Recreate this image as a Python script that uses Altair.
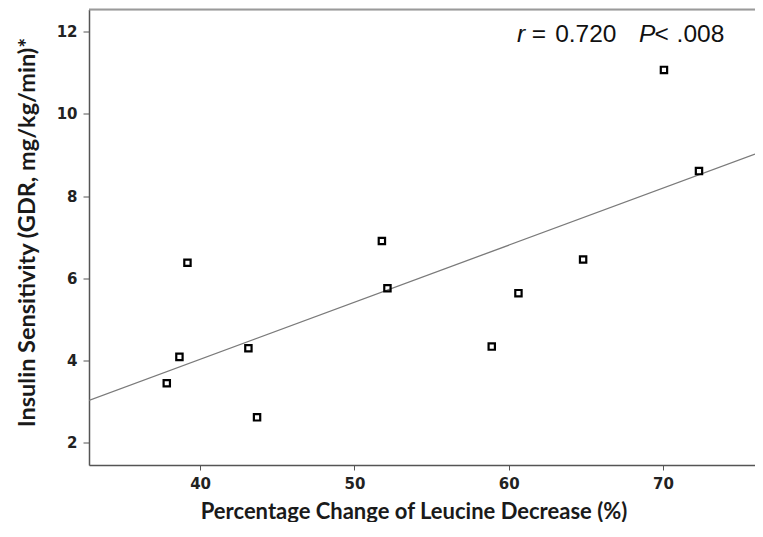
import altair as alt
import pandas as pd

# Data
leucine_change = [37.84, 38.66, 39.18, 43.13, 43.69, 51.78, 52.14, 58.90, 60.63, 64.82, 70.06, 72.33]
insulin_sens = [3.45, 4.09, 6.38, 4.30, 2.62, 6.91, 5.76, 4.34, 5.64, 6.46, 11.07, 8.61]

x_ticks = [40, 50, 60, 70]
y_ticks = [2, 4, 6, 8, 10, 12]
x_domain = [32.8, 75.96]
y_domain = [1.46, 12.54]

# annotation pieces: text, x (data), y (data), italic?
ann_text = ["r", "=", "0.720", "P", "<", ".008"]
ann_x = [60.54, 61.49, 63.01, 68.45, 69.45, 70.88]
ann_y = [11.742] * 6
ann_style = ["italic", "normal", "normal", "italic", "normal", "normal"]

df = pd.DataFrame({"x": leucine_change, "y": insulin_sens})
ann = pd.DataFrame({"t": ann_text, "x": ann_x, "y": ann_y, "s": ann_style})

W, H = 666, 455.5

xs = alt.Scale(domain=x_domain, nice=False, zero=False)
ys = alt.Scale(domain=y_domain, nice=False, zero=False)

xaxis = alt.Axis(
    values=x_ticks, title="Percentage Change of Leucine Decrease (%)",
    grid=False, domainColor="#555555", domainWidth=1.5, tickColor="#555555",
    tickSize=5, labelPadding=6, labelFont="DejaVu Sans", labelFontSize=15,
    labelFontWeight="bold", labelColor="#222222",
    titleFont="Lato", titleFontSize=22, titleFontWeight="bold", titleColor="#1a1a1a",
    titleX=324.5, titleY=53, titleAnchor="start", titleAlign="center", titleBaseline="alphabetic",
)
yaxis = alt.Axis(
    values=y_ticks, title="Insulin Sensitivity (GDR, mg/kg/min)*",
    grid=False, domainColor="#555555", domainWidth=1.5, tickColor="#555555",
    tickSize=6, labelPadding=6, labelFont="DejaVu Sans", labelFontSize=15,
    labelFontWeight="bold", labelColor="#222222",
    titleFont="Lato", titleFontSize=23.5, titleFontWeight="bold", titleColor="#1a1a1a",
    titleX=-55, titleY=222.5, titleAngle=270, titleAlign="center", titleBaseline="alphabetic",
)

base = alt.Chart(df)

points = base.mark_point(shape="square", filled=False, size=40, strokeWidth=2.2, color="black", opacity=1).encode(
    x=alt.X("x:Q", scale=xs, axis=xaxis),
    y=alt.Y("y:Q", scale=ys, axis=yaxis),
)

fit = base.transform_regression("x", "y", extent=x_domain).mark_line(
    color="#7a7a7a", strokeWidth=1.3, clip=True
).encode(x=alt.X("x:Q", scale=xs), y=alt.Y("y:Q", scale=ys))

top_border = alt.Chart(pd.DataFrame({"a": [0]})).mark_rule(color="#9a9a9a", strokeWidth=2).encode(
    x=alt.value(0), x2=alt.value(W), y=alt.value(0)
)

ann_normal = alt.Chart(ann).transform_filter(alt.datum.s == "normal").mark_text(
    align="left", baseline="alphabetic", font="Liberation Sans", fontSize=24.5, color="#111111"
).encode(x=alt.X("x:Q", scale=xs), y=alt.Y("y:Q", scale=ys), text="t:N")

ann_italic = alt.Chart(ann).transform_filter(alt.datum.s == "italic").mark_text(
    align="left", baseline="alphabetic", font="Liberation Sans", fontSize=24.5, fontStyle="italic", color="#111111"
).encode(x=alt.X("x:Q", scale=xs), y=alt.Y("y:Q", scale=ys), text="t:N")

chart = alt.layer(fit, points, top_border, ann_normal, ann_italic).properties(
    width=W, height=H,
    autosize=alt.AutoSizeParams(type="none"),
    padding={"left": 81, "top": 1.5, "right": 0, "bottom": 57},
).configure_view(stroke=None).configure(background="white")

chart.save("out.html", embed_options={"renderer": "svg", "actions": False})
